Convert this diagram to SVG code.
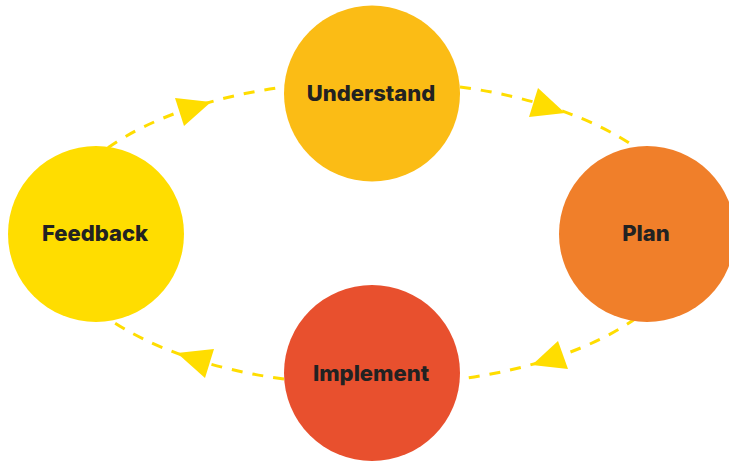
<svg xmlns="http://www.w3.org/2000/svg" width="729" height="461" viewBox="0 0 729 461">
  <style>
    .link { fill: none; stroke: #FFDD00; stroke-width: 3; stroke-dasharray: 11 10; }
    .head { fill: #FFDD00; }
    .label { font-family: Inter, "Liberation Sans", sans-serif; font-weight: 800; font-size: 22px; fill: #222222; text-anchor: middle; }
  </style>
  <rect width="729" height="461" fill="#FFFFFF"/>

  <!-- cycle connectors: arcs of one ellipse centred at (372,233) -->
  <g id="connectors">
    <path class="link" d="M108,147.7 A319,152 0 0 1 284,86.9"/>
    <path class="link" d="M460,86.9 A319,152 0 0 1 636,147.7"/>
    <path class="link" d="M636,318.3 A319,152 0 0 1 460,379.1"/>
    <path class="link" d="M284,379.1 A319,152 0 0 1 108,318.3"/>
    <polygon class="head" points="211,102 175,98 184,126"/>
    <polygon class="head" points="565,113 538,88 529,117"/>
    <polygon class="head" points="532,365 558,341 568,369"/>
    <polygon class="head" points="177,353 214,349 205,378"/>
  </g>

  <g id="understand">
    <circle cx="372" cy="93.5" r="88" fill="#FBBC15"/>
    <text class="label" x="371" y="100.5">Understand</text>
  </g>
  <g id="plan">
    <circle cx="647" cy="234" r="88" fill="#F07F2A"/>
    <text class="label" x="646" y="240.5">Plan</text>
  </g>
  <g id="implement">
    <circle cx="372" cy="373" r="88" fill="#E8502E"/>
    <text class="label" x="371" y="380.5">Implement</text>
  </g>
  <g id="feedback">
    <circle cx="96" cy="234" r="88" fill="#FFDD00"/>
    <text class="label" x="95" y="240.5">Feedback</text>
  </g>
</svg>
